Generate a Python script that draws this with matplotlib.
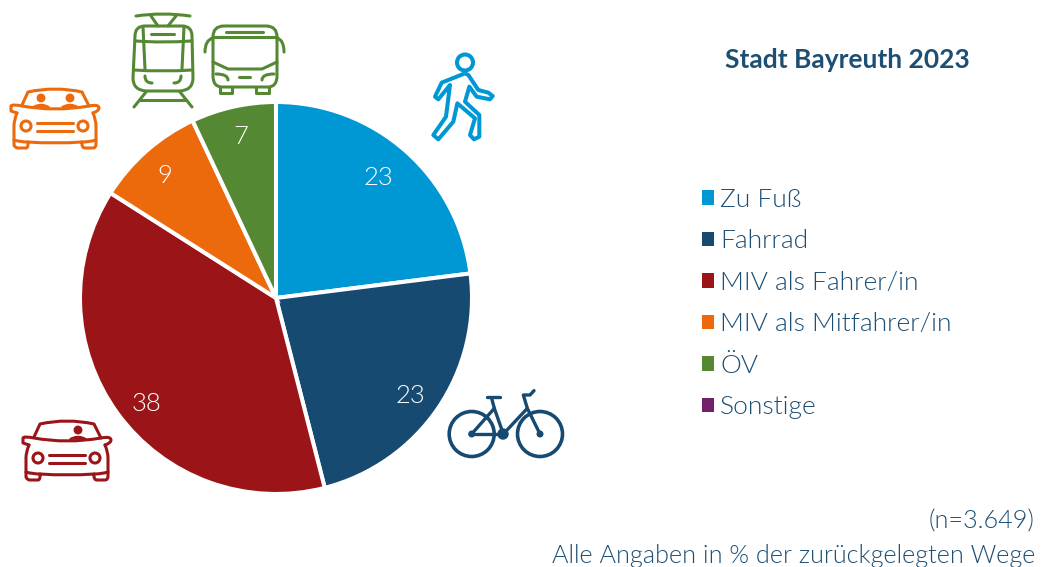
import matplotlib
matplotlib.use('Agg')
import matplotlib.pyplot as plt
from matplotlib import font_manager as fm
from matplotlib.path import Path
from matplotlib.patches import PathPatch, Circle

plt.rcParams['font.family'] = ['Lato', 'DejaVu Sans']

categories = ['Zu Fuß', 'Fahrrad', 'MIV als Fahrer/in', 'MIV als Mitfahrer/in', 'ÖV', 'Sonstige']
values = [23, 23, 38, 9, 7, 0]
colors = ['#0098d4', '#174a70', '#9b1518', '#ec6a0c', '#558833', '#71206a']
title = 'Stadt Bayreuth 2023'
note_n = '(n=3.649)'
note_unit = 'Alle Angaben in % der zurückgelegten Wege'
text_color = '#1d4f75'

W, H = 1044, 567

# the lighter cut of Lato, weight='light' ends up on the hairline one
light_files = [f.fname for f in fm.fontManager.ttflist if f.fname.endswith('Lato-Light.ttf')]


def light(size):
    if light_files:
        return fm.FontProperties(fname=light_files[0], size=size)
    return fm.FontProperties(family='Lato', size=size)


def stroke(ax, pts, color, lw=2.2, close=False, fill='none'):
    # points: (x,y) is a line, (cx,cy,x,y) is a quadratic curve
    verts = [pts[0][:2]]
    codes = [Path.MOVETO]
    for p in pts[1:]:
        if len(p) == 4:
            verts += [p[:2], p[2:]]
            codes += [Path.CURVE3, Path.CURVE3]
        else:
            verts.append(p)
            codes.append(Path.LINETO)
    if close:
        verts.append(pts[0][:2])
        codes.append(Path.CLOSEPOLY)
    ax.add_patch(PathPatch(Path(verts, codes), fc=fill, ec=color, lw=lw, capstyle='round', joinstyle='round'))


def ring(ax, x, y, r, color, lw=2.2, fill='none'):
    ax.add_patch(Circle((x, y), r, fc=fill, ec=color, lw=lw))


def car(ax, dx, dy, color, people):
    s = lambda pts: [tuple(v + (dx if i % 2 == 0 else dy) for i, v in enumerate(p)) for p in pts]
    stroke(ax, s([(22, 105), (28, 92), (55, 86, 82, 92), (89, 106)]), color)
    stroke(ax, s([(17, 113), (11, 111), (11, 106), (12, 104, 22, 106), (55, 112, 89, 106), (99, 104, 99, 108), (99, 111, 93, 113)]), color)
    stroke(ax, s([(17, 113), (14, 120, 14, 126), (14, 145), (15, 148, 18, 148), (26, 148), (28, 148, 28, 144), (28, 142), (55, 144, 82, 142), (82, 144), (82, 148, 85, 148), (93, 148), (96, 148, 96, 144), (96, 126), (96, 120, 93, 113)]), color)
    stroke(ax, s([(14, 140), (20, 142, 28, 142)]), color)
    stroke(ax, s([(82, 142), (90, 142, 96, 140)]), color)
    ring(ax, 26 + dx, 126 + dy, 5, color)
    ring(ax, 83 + dx, 126 + dy, 5, color)
    stroke(ax, s([(37, 123), (73, 123)]), color)
    stroke(ax, s([(37, 131), (73, 131)]), color)
    for px in people:
        ring(ax, px + dx, 98 + dy, 3.6, color, lw=1.2, fill=color)
        stroke(ax, s([(px - 8, 107), (px, 102, px + 8, 107)]), color, lw=1.2, close=True, fill=color)


def tram(ax, color):
    stroke(ax, [(136, 16), (163, 12, 190, 16)], color)
    stroke(ax, [(151, 16), (158, 26)], color)
    stroke(ax, [(176, 16), (168, 26)], color)
    stroke(ax, [(145, 26), (182, 26), (192, 26, 192, 36), (193, 78), (193, 90, 180, 91), (146, 91), (133, 90, 133, 78), (135, 36), (135, 26, 145, 26)], color, close=True)
    stroke(ax, [(143, 27), (145, 69)], color)
    stroke(ax, [(184, 27), (182, 69)], color)
    stroke(ax, [(136, 41), (163, 43, 191, 41)], color)
    stroke(ax, [(134, 70), (163, 72, 192, 70)], color)
    stroke(ax, [(151, 34), (174, 34)], color)
    stroke(ax, [(145, 76), (145, 83, 152, 83)], color)
    stroke(ax, [(181, 76), (181, 83, 174, 83)], color)
    stroke(ax, [(146, 92), (134, 107)], color)
    stroke(ax, [(180, 92), (192, 107)], color)
    stroke(ax, [(140, 100), (186, 100)], color)


def bus(ax, color):
    stroke(ax, [(224, 26), (266, 26), (277, 26, 277, 37), (277, 76), (277, 87, 268, 87), (222, 87), (213, 87, 213, 76), (213, 37), (213, 26, 224, 26)], color, close=True)
    stroke(ax, [(213, 37), (277, 37)], color)
    stroke(ax, [(226, 32), (263, 32)], color)
    stroke(ax, [(213, 62), (228, 69), (262, 69), (277, 62)], color)
    stroke(ax, [(213, 38), (205, 40, 205, 52)], color)
    stroke(ax, [(277, 38), (284, 40, 284, 52)], color)
    stroke(ax, [(216, 74), (228, 74, 228, 80)], color)
    stroke(ax, [(274, 74), (262, 74, 262, 80)], color)
    stroke(ax, [(239, 77), (250, 77)], color)
    stroke(ax, [(220, 87), (220, 93), (232, 93), (232, 87)], color)
    stroke(ax, [(256, 87), (256, 93), (269, 93), (269, 87)], color)


def walker(ax, color):
    ring(ax, 465, 62.5, 8, color, lw=2.9)
    outline = [(135, 100), (65, 128), (45, 170), (55, 178), (90, 135), (78, 230), (40, 285), (55, 298), (100, 245),
               (112, 190), (165, 235), (150, 285), (162, 298), (178, 290), (178, 225), (135, 185), (148, 140),
               (170, 170), (210, 178), (218, 168), (205, 158), (175, 150), (145, 105)]
    stroke(ax, [(420 + x / 3, 40 + y / 3) for x, y in outline], color, lw=2.9, close=True)


def bike(ax, color):
    ring(ax, 471.7, 434, 22.5, color, lw=2.6)
    ring(ax, 540, 434, 22.5, color, lw=2.6)
    ring(ax, 503, 434, 5, color, lw=1, fill=color)
    ring(ax, 471.7, 434, 2.8, color, lw=1, fill=color)
    ring(ax, 540, 434, 2.8, color, lw=1, fill=color)
    frame = [
        [(95, 162), (190, 162)],
        [(95, 162), (163, 85), (190, 162)],
        [(190, 162), (262, 85), (300, 162)],
        [(262, 85), (250, 45), (270, 45), (282, 32)],
        [(140, 52), (180, 52)],
        [(155, 55), (163, 85)],
    ]
    for part in frame:
        stroke(ax, [(440 + x / 3, 380 + y / 3) for x, y in part], color, lw=2.4)


fig = plt.figure(figsize=(W / 100, H / 100), dpi=100)
ax = fig.add_axes([0, 0, 1, 1])
wedges, _, autotexts = ax.pie(values, colors=colors, startangle=90, counterclock=False, center=(276, H - 298), radius=196,
                              autopct=lambda p: '%.0f' % p if p > 0 else '', pctdistance=0.83,
                              wedgeprops={'edgecolor': 'white', 'linewidth': 2.9})
# number positions in the original are not quite on a circle
label_shift = [(-5, -2), (0, -7), (2, -10), (-4, 0), (0, 2), (0, 0)]
for t, (sx, sy) in zip(autotexts, label_shift):
    t.set_color('white')
    t.set_fontproperties(light(18.5))
    x, y = t.get_position()
    t.set_position((x + sx, y + sy))
ax.set_xlim(0, W)
ax.set_ylim(0, H)
ax.axis('off')

ax.text(847, H - 60, title, color=text_color, fontsize=19, fontweight='bold', ha='center', va='center')
ax.text(1035, H - 522, note_n, color=text_color, fontproperties=light(18.2), ha='right', va='center')
ax.text(1035, H - 556, note_unit, color=text_color, fontproperties=light(18.2), ha='right', va='center')

leg = ax.legend(wedges, categories, loc='upper left', bbox_to_anchor=(691 / W, 1 - 177.5 / H), frameon=False, prop=light(19),
                labelcolor=text_color, handlelength=0.46, handleheight=0.46, handletextpad=0.25, labelspacing=0.66,
                borderaxespad=0, borderpad=0.4)
for h in leg.legend_handles:
    h.set_edgecolor('none')

# icons in pixel coordinates of the picture
icons = fig.add_axes([0, 0, 1, 1], facecolor='none')
icons.set_xlim(0, W)
icons.set_ylim(H, 0)
icons.axis('off')
walker(icons, colors[0])
bike(icons, colors[1])
car(icons, 12, 332, colors[2], [66])
car(icons, 0, 0, colors[3], [41, 70])
tram(icons, colors[4])
bus(icons, colors[4])

fig.savefig('out.png', dpi=100)
